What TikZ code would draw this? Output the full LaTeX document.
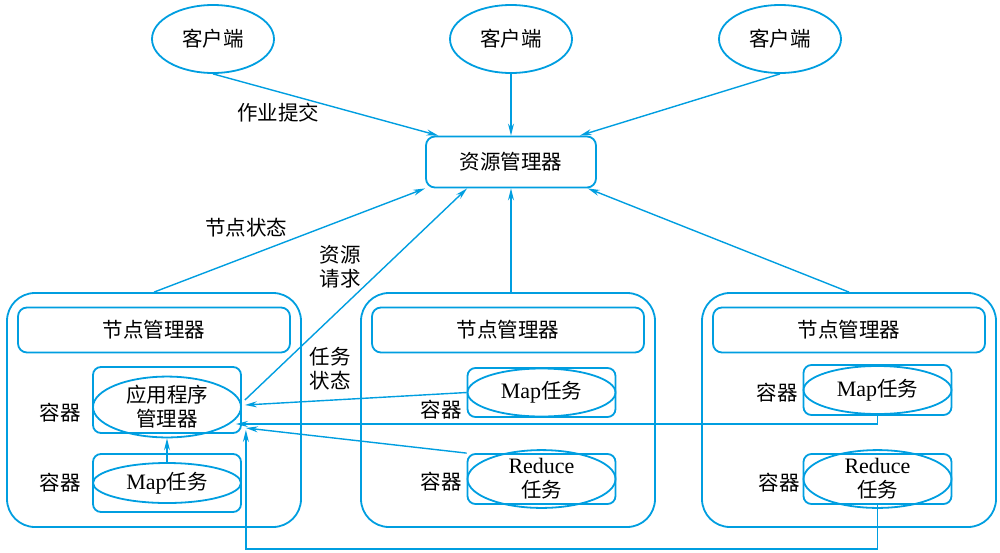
\documentclass[tikz,border=0pt]{standalone}
\usepackage{fontspec}
\setmainfont{Liberation Serif}
\newfontfamily\cjk{Noto Sans CJK SC}
\usetikzlibrary{shapes.geometric,arrows.meta,calc}
\definecolor{yarnblue}{RGB}{0,158,224}
\tikzset{
	txt/.style={font=\cjk\fontsize{20.5}{24}\selectfont, align=center, inner sep=0pt},
	client/.style={txt, ellipse, draw=yarnblue, line width=1.8pt, minimum width=122pt, minimum height=68pt},
	mgr/.style={txt, rectangle, draw=yarnblue, line width=1.8pt, rounded corners=9pt},
	nodebox/.style={rectangle, draw=yarnblue, line width=1.8pt, rounded corners=28pt, minimum width=294pt, minimum height=234pt},
	cont/.style={rectangle, draw=yarnblue, line width=1.8pt, rounded corners=8pt, minimum width=148pt},
	task/.style={txt, ellipse, draw=yarnblue, line width=1.8pt, minimum width=148pt},
	link/.style={draw=yarnblue, line width=1.4pt, -{Stealth[length=12pt,width=6pt]}}
}
\begin{document}
\begin{tikzpicture}[x=1pt,y=-1pt]
	\useasboundingbox (0,0) rectangle (1000,552);
	% clients and resource manager
	\node[client] (c1) at (213,39) {客户端};
	\node[client] (c2) at (511,39) {客户端};
	\node[client] (c3) at (780,39) {客户端};
	\node[mgr, minimum width=170pt, minimum height=51pt] (rm) at (511,162) {资源管理器};
	% node boxes
	\foreach \n/\x in {n1/154,n2/508,n3/849}{
		\node[nodebox] (\n) at (\x,410) {};
		\node[mgr, minimum width=272pt, minimum height=45pt] (nm\n) at (\x,330) {节点管理器};
	}
	% node 1
	\node[cont, minimum height=66pt] (ac1) at (167,400) {};
	\node[task, minimum height=55pt] (am) at (167,407) {应用程序\\管理器};
	\node[cont, minimum height=58pt] (mc1) at (167,483) {};
	\node[task, minimum height=40pt] (mt1) at (167,483) {{\rmfamily\fontsize{22}{24}\selectfont Map}任务};
	\node[txt] (l1) at (60,413) {容器};
	\node[txt] (l2) at (60,483) {容器};
	% node 2
	\node[cont, minimum height=49pt] (mc2) at (541.5,392.5) {};
	\node[task, minimum height=48pt] (mt2) at (541.5,392.5) {{\rmfamily\fontsize{22}{24}\selectfont Map}任务};
	\node[cont, minimum height=50pt] (rc2) at (541.5,479) {};
	\node[task, minimum height=48pt] (rt2) at (541.5,479) {{\rmfamily\fontsize{22}{24}\selectfont Reduce}\\任务};
	\node[txt] (l3) at (441,410) {容器};
	\node[txt] (l4) at (441,482) {容器};
	% node 3
	\node[cont, minimum height=50pt] (mc3) at (877.5,390) {};
	\node[task, minimum height=48pt] (mt3) at (877.5,390) {{\rmfamily\fontsize{22}{24}\selectfont Map}任务};
	\node[cont, minimum height=50pt] (rc3) at (877.5,479) {};
	\node[task, minimum height=48pt] (rt3) at (877.5,479) {{\rmfamily\fontsize{22}{24}\selectfont Reduce}\\任务};
	\node[txt] (l5) at (777,393) {容器};
	\node[txt] (l6) at (779,483) {容器};
	% labels
	\node[txt] (job) at (278,113) {作业提交};
	\node[txt] (ns) at (246,228) {节点状态};
	\node[txt] (rq) at (340,267) {资源\\请求};
	\node[txt] (ts) at (330,369) {任务\\状态};
	% connectors
	\draw[link] (c1.south) -- (rm.160);
	\draw[link] (c2.south) -- (rm.north);
	\draw[link] (c3.south) -- (rm.21);
	\draw[link] (n1.north) -- (rm.south west);
	\draw[link] (rm.south |- n2.north) -- (rm.south);
	\draw[link] (n3.north) -- (rm.-19);
	\draw[link, {Stealth[length=12pt,width=6pt]}-] (rm.-149) -- ($(ac1.east)+(3,0)$);
	\draw[link] (mt1.north) -- (am.south);
	\draw[link] (mt2.west) -- ($(ac1.east)+(3,5)$);
	\draw[link] (mc3.south) |- ($(ac1.east)+(-6,24)$);
	\draw[link] (rc2.north west) -- ($(ac1.east)+(4,28)$);
	\draw[link] (rc3.south) -- ++(0,44) -| ($(ac1.east)+(4,30)$);
\end{tikzpicture}
\end{document}
